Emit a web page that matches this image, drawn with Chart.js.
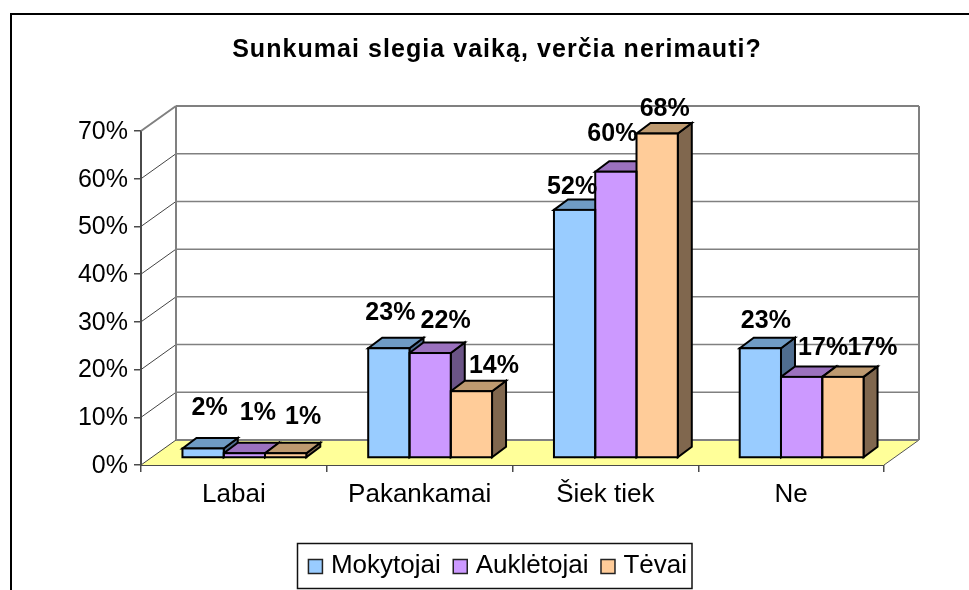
<!DOCTYPE html>
<html lang="lt"><head><meta charset="utf-8">
<style>html,body{margin:0;padding:0;background:#fff}canvas{display:block}</style>
<script src="https://cdn.jsdelivr.net/npm/chart.js@4"></script></head>
<body><canvas id="c" width="969" height="590"></canvas>
<script>
const categories = ["Labai", "Pakankamai", "Šiek tiek", "Ne"];
const seriesNames = ["Mokytojai", "Auklėtojai", "Tėvai"];
const mokytojai = [2, 23, 52, 23];
const aukletojai = [1, 22, 60, 17];
const tevai = [1, 14, 68, 17];

const front = ["#99CCFF", "#CC99FF", "#FFCC99"];
const topFace = ["#6F9BC4", "#9B71BE", "#BE9A70"];
const sideFace = ["#4F6D8F", "#6B5486", "#80674E"];
const labelShift = [
  [[7,-40],[2,-35],[-2,-23],[6,-27]],
  [[14,-40],[16,-32],[-3,-38],[22,-29]],
  [[18,-36],[23,-25],[8,-24],[30,-29]]
];
const WALL = {dx:35, dy:-25}, BAR = {dx:10.5, dy:-7}, DEPTH = {dx:14, dy:-10.5};
const GREY = "#808080", AXIS = "#4a4a4a";

function poly(ctx, pts, fill, stroke, lw){
  ctx.beginPath();
  pts.forEach((p,i)=> i ? ctx.lineTo(p[0],p[1]) : ctx.moveTo(p[0],p[1]));
  ctx.closePath();
  if(fill){ctx.fillStyle=fill;ctx.fill();}
  if(stroke){ctx.strokeStyle=stroke;ctx.lineWidth=lw;ctx.stroke();}
}
function line(ctx,x1,y1,x2,y2,c,w){
  ctx.beginPath();ctx.moveTo(x1,y1);ctx.lineTo(x2,y2);ctx.strokeStyle=c;ctx.lineWidth=w;ctx.stroke();
}
const chart3d = {
  id:"chart3d",
  afterLayout(chart){
    const t = chart.titleBlock;
    t.left = 0; t.right = 994;
    chart.legend.left = 0; chart.legend.right = 995;
    chart.legend.top -= 1; chart.legend.bottom -= 1;
    if(!t._spaced){
      const d = t.draw;
      t.draw = function(a){
        chart.ctx.letterSpacing = "1.05px";
        d.call(t,a);
        chart.ctx.letterSpacing = "0px";
      };
      t._spaced = true;
    }
  },
  beforeDatasetsDraw(chart){
    const {ctx} = chart, xs = chart.scales.x, ys = chart.scales.y;
    const L = xs.left, R = xs.right, B = ys.getPixelForValue(0), T = ys.getPixelForValue(70);
    const w = WALL;
    ctx.save();
    poly(ctx,[[L,B],[R,B],[R+w.dx,B+w.dy],[L+w.dx,B+w.dy]],"#FFFF99");
    line(ctx,R,B,R+w.dx,B+w.dy,"#555",1);
    ys.ticks.forEach(t=>{
      const y = ys.getPixelForValue(t.value);
      line(ctx,L+w.dx,y+w.dy,R+w.dx,y+w.dy,GREY,(t.value===70||t.value===0)?2:1.5);
      line(ctx,L,y,L+w.dx,y+w.dy,t.value===70?GREY:"#444",t.value===70?2:1);
    });
    line(ctx,L+w.dx,T+w.dy,L+w.dx,B+w.dy,GREY,2);
    line(ctx,R+w.dx,T+w.dy,R+w.dx,B+w.dy,GREY,2);
    ctx.translate(BAR.dx,BAR.dy);
    ctx.lineJoin="miter";
    chart.data.datasets.forEach((ds,i)=>{
      chart.getDatasetMeta(i).data.forEach(b=>{
        const x0=b.x-b.width/2, x1=b.x+b.width/2, y0=b.y, yb=b.base, d=DEPTH;
        poly(ctx,[[x1,y0],[x1+d.dx,y0+d.dy],[x1+d.dx,yb+d.dy],[x1,yb]],sideFace[i],"#000",2);
        poly(ctx,[[x0,y0],[x0+d.dx,y0+d.dy],[x1+d.dx,y0+d.dy],[x1,y0]],topFace[i],"#000",2);
      });
    });
  },
  afterDatasetsDraw(chart){
    const {ctx} = chart;
    ctx.strokeStyle="#000";ctx.lineWidth=2;
    chart.data.datasets.forEach((ds,i)=>{
      chart.getDatasetMeta(i).data.forEach(b=>{
        ctx.strokeRect(b.x-b.width/2,b.y,b.width,b.base-b.y);
      });
    });
    ctx.restore();
    ctx.save();
    ctx.font = "bold 25px 'Liberation Sans'";
    ctx.fillStyle="#000";ctx.textAlign="center";ctx.textBaseline="middle";
    chart.data.datasets.forEach((ds,i)=>{
      chart.getDatasetMeta(i).data.forEach((b,j)=>{
        const s = labelShift[i][j];
        ctx.fillText(ds.data[j]+"%", b.x+10+s[0], b.y+BAR.dy+s[1]);
      });
    });
    ctx.restore();
  },
  afterDraw(chart){
    const {ctx} = chart, lg = chart.legend;
    ctx.save();
    ctx.fillStyle="#000";
    ctx.fillRect(10,13,959,2);
    ctx.fillRect(10,13,2,577);
    ctx.strokeStyle="#111";ctx.lineWidth=1.5;
    ctx.strokeRect(297.5,543.5,394.5,45);
    lg.legendHitBoxes.forEach((h,i)=>{
      ctx.fillStyle=front[i];ctx.strokeStyle="#222";ctx.lineWidth=1.5;
      ctx.fillRect(h.left+0.5,559.5,14,14);ctx.strokeRect(h.left+0.5,559.5,14,14);
    });
    ctx.restore();
  }
};
new Chart(document.getElementById("c"),{
  type:"bar",
  data:{labels:categories,datasets:[mokytojai,aukletojai,tevai].map((d,i)=>({
    label:seriesNames[i],data:d,backgroundColor:front[i],borderWidth:0,
    clip:false,categoryPercentage:2/3,barPercentage:1
  }))},
  plugins:[chart3d],
  options:{
    responsive:false,animation:false,
    layout:{padding:{left:0,right:85,top:0,bottom:0}},
    scales:{
      x:{
        grid:{display:true,drawOnChartArea:false,drawTicks:true,tickLength:7,color:AXIS,lineWidth:1.5},
        border:{display:true,color:AXIS,width:2},
        ticks:{padding:7,color:"#000",font:{family:"Liberation Sans",size:26},maxRotation:0},
        afterFit(s){s.height = 590 - 465 - s.chart.legend.height;}
      },
      y:{
        min:0,max:70,
        grid:{display:true,drawOnChartArea:false,tickLength:7,color:AXIS,lineWidth:1.5},
        border:{display:true,color:AXIS,width:2},
        ticks:{stepSize:10,padding:6,labelOffset:1,color:"#000",font:{family:"Liberation Sans",size:25},callback:v=>v+"%"},
        afterFit(s){s.width=141;}
      }
    },
    plugins:{
      title:{display:true,text:"Sunkumai slegia vaiką, verčia nerimauti?",color:"#000",
        font:{family:"Liberation Sans",size:25,weight:"bold"},padding:{top:35,bottom:66}},
      legend:{position:"bottom",labels:{color:"#000",boxWidth:10,boxHeight:15,padding:12,
        font:{family:"Liberation Sans",size:26},
        generateLabels(chart){
          return Chart.defaults.plugins.legend.labels.generateLabels(chart).map(l=>
            Object.assign(l,{fillStyle:"rgba(0,0,0,0)",strokeStyle:"rgba(0,0,0,0)",lineWidth:0}));
        }}},
      tooltip:{enabled:false}
    }
  }
});
</script></body></html>
